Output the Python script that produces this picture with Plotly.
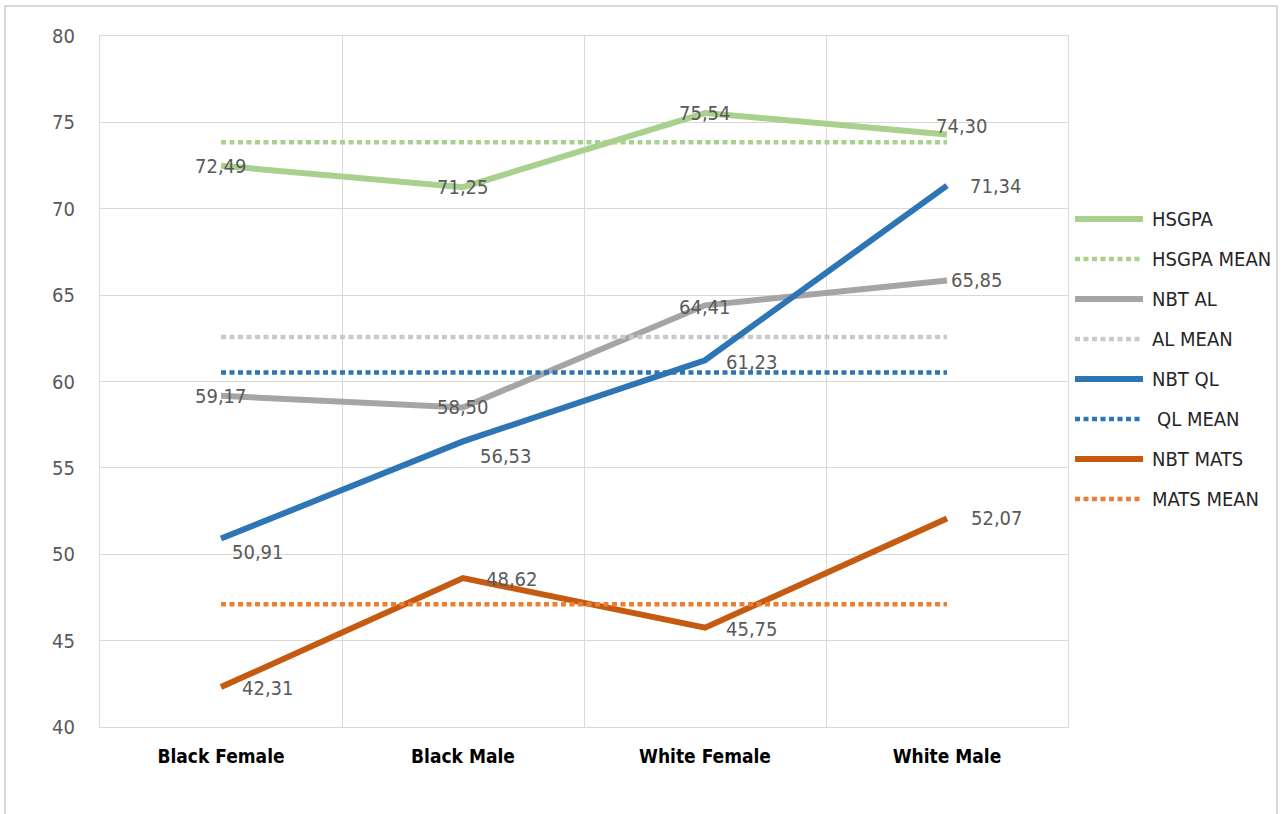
import plotly.graph_objects as go

# Groups on the horizontal axis
categories = ["Black Female", "Black Male", "White Female", "White Male"]

# Series values
hsgpa = [72.49, 71.25, 75.54, 74.30]
nbt_al = [59.17, 58.50, 64.41, 65.85]
nbt_ql = [50.91, 56.53, 61.23, 71.34]
nbt_mats = [42.31, 48.62, 45.75, 52.07]

# Overall means (flat reference lines)
hsgpa_mean = 73.85
al_mean = 62.58
ql_mean = 60.52
mats_mean = 47.10

# Axis ticks
y_ticks = [40, 45, 50, 55, 60, 65, 70, 75, 80]

FONT = "Liberation Sans Narrow, Arial Narrow, DejaVu Sans Condensed, sans-serif"
GRID = "#D9D9D9"
LABEL = "#595959"

x_idx = list(range(len(categories)))

series = [
    # name, values, colour, dotted, label offsets (px) per point
    ("HSGPA", hsgpa, "#A9D18E", False, [(0, 0), (0, 0), (0, 0), (15, 8)]),
    ("HSGPA MEAN", [hsgpa_mean] * 4, "#A9D18E", True, None),
    ("NBT AL", nbt_al, "#A5A5A5", False, [(0, 0), (0, 0), (0, -2), (30, 0)]),
    ("AL MEAN", [al_mean] * 4, "#C9C9C9", True, None),
    ("NBT QL", nbt_ql, "#2E75B6", False, [(37, -13), (43, -15), (47, -2), (49, 0)]),
    (" QL MEAN", [ql_mean] * 4, "#2E75B6", True, None),
    ("NBT MATS", nbt_mats, "#C55A11", False, [(47, -1), (49, -1), (47, -1), (50, 0)]),
    ("MATS MEAN", [mats_mean] * 4, "#ED7D31", True, None),
]

fig = go.Figure()
annotations = []
shapes = []

# plot-area geometry in pixels, used for the hand-placed key
W, H = 1284, 814
ML, MR, MT, MB = 100, 216, 36, 87
pw, ph = W - ML - MR, H - MT - MB


def px_x(px):
    return (px - ML) / pw


def px_y(py):
    return (H - MB - py) / ph


for i, (name, vals, color, dotted, offs) in enumerate(series):
    fig.add_trace(go.Scatter(
        x=x_idx, y=vals, name=name.strip(), mode="lines",
        line=dict(color=color, width=4.5 if dotted else 6,
                  dash="5px,3.5px" if dotted else "solid"),
        showlegend=False, hoverinfo="skip",
    ))
    if offs:
        for xi, v, (dx, dy) in zip(x_idx, vals, offs):
            annotations.append(dict(
                x=xi, y=v, xref="x", yref="y",
                text=f"{v:.2f}".replace(".", ","),
                showarrow=False, xanchor="center", yanchor="middle",
                xshift=dx, yshift=dy,
                font=dict(family=FONT, size=20, color=LABEL),
            ))
    # key entry on the right
    ky = 219 + 40 * i
    shapes.append(dict(
        type="line", xref="paper", yref="paper",
        x0=px_x(1075), x1=px_x(1143), y0=px_y(ky), y1=px_y(ky),
        line=dict(color=color, width=4.5 if dotted else 6,
                  dash="5px,3.5px" if dotted else "solid"),
    ))
    annotations.append(dict(
        x=px_x(1150), y=px_y(ky), xref="paper", yref="paper",
        text=name.strip(), showarrow=False, xanchor="left", yanchor="middle",
        xshift=5 if name.startswith(" ") else 0,
        font=dict(family=FONT, size=20, color="#262626"),
    ))

# outer chart frame
shapes.append(dict(
    type="rect", xref="paper", yref="paper", layer="below",
    x0=px_x(5), x1=px_x(1277), y0=px_y(830), y1=px_y(6),
    line=dict(color=GRID, width=2), fillcolor="rgba(0,0,0,0)",
))

fig.update_layout(
    width=W, height=H,
    margin=dict(l=ML, r=MR, t=MT, b=MB),
    paper_bgcolor="white", plot_bgcolor="white",
    showlegend=False,
    annotations=annotations,
    shapes=shapes,
    xaxis=dict(
        range=[-0.5, 3.5], tickmode="array", tickvals=x_idx, ticktext=categories,
        showgrid=False, zeroline=False,
        showline=True, mirror=True, linecolor=GRID, linewidth=1,
        ticks="", ticklabelstandoff=12,
        tickfont=dict(family=FONT, size=19, color="#000000", weight="bold"),
        minor=dict(tickvals=[0.5, 1.5, 2.5], showgrid=True, gridcolor=GRID, gridwidth=1, ticks=""),
        fixedrange=True,
    ),
    yaxis=dict(
        range=[40, 80], tickmode="array", tickvals=y_ticks,
        showgrid=True, gridcolor=GRID, gridwidth=1, zeroline=False,
        showline=True, mirror=True, linecolor=GRID, linewidth=1,
        ticks="", ticklabelstandoff=20,
        tickfont=dict(family=FONT, size=20, color=LABEL),
        fixedrange=True,
    ),
)

fig.write_html("out.html")
